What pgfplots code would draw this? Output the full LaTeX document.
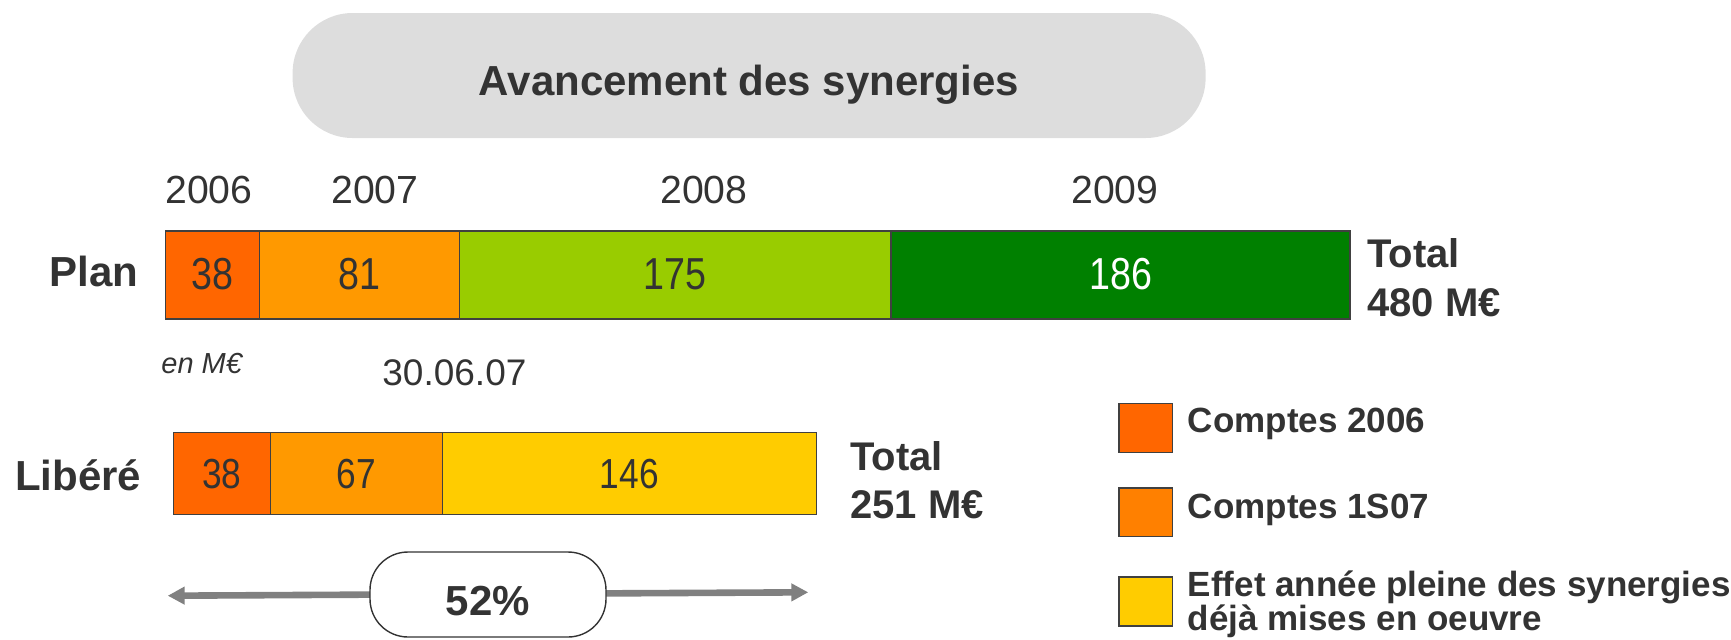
\documentclass[border=0pt]{standalone}
\usepackage{graphicx}
\usepackage{pgfplots}
\pgfplotsset{compat=1.18}
\usetikzlibrary{arrows.meta}
\usepackage{fontspec}
\setmainfont{Liberation Sans}

\definecolor{txt}{HTML}{333333}
\definecolor{c06}{HTML}{FF6600}
\definecolor{c07}{HTML}{FF9900}
\definecolor{c08}{HTML}{99CC00}
\definecolor{c09}{HTML}{008000}
\definecolor{cleg}{HTML}{FF8000}
\definecolor{ceff}{HTML}{FFCC00}
\definecolor{edge}{HTML}{404040}
\definecolor{pill}{HTML}{DDDDDD}
\definecolor{arr}{HTML}{808080}

\pgfplotsset{
  synbar/.style={
    xbar stacked, bar width=1, hide axis, scale only axis, clip=false,
    ymin=0.5, ymax=1.5, xmin=0, anchor=north west,
  },
  seg/.style={fill=#1, draw=edge, line width=0.6pt},
}
\tikzset{
  val/.style={font=\fontsize{#1}{#1}\selectfont, text=txt, anchor=base, inner sep=0pt},
}
% condensed figures for the values in the bars
\newcommand\narrow[1]{\scalebox{0.84}[1]{#1}}

\begin{document}
\begin{tikzpicture}
% 1 px of the reference = 0.5pt, y running downwards
\begin{scope}[x=0.5pt,y=-0.5pt]
\fill[pill, rounded corners=30pt] (292.6,13) rectangle (1205.6,138);
\node[font=\bfseries\fontsize{21}{25}\selectfont, text=txt, anchor=base, inner sep=0pt] at (749,95) {Avancement des synergies};
\foreach \xx/\yr in {209/2006, 375/2007, 704/2008, 1115/2009}
  \node[font=\fontsize{19.6}{22}\selectfont, text=txt, anchor=base, inner sep=0pt] at (\xx,203.3) {\yr};
\end{scope}

% Plan
\begin{axis}[synbar, at={(82.85pt,-115.5pt)}, width=592.15pt, height=44pt, xmax=480]
\addplot[seg=c06] coordinates {(38,1)};
\addplot[seg=c07] coordinates {(81,1)};
\addplot[seg=c08] coordinates {(175,1)};
\addplot[seg=c09] coordinates {(186,1)};
\coordinate (p1) at (axis cs:19,1);
\coordinate (p2) at (axis cs:78.5,1);
\coordinate (p3) at (axis cs:206.5,1);
\coordinate (p4) at (axis cs:387,1);
\end{axis}

% Libere
\begin{axis}[synbar, at={(86.65pt,-216.15pt)}, width=321.5pt, height=41pt, xmax=251]
\addplot[seg=c06] coordinates {(38,1)};
\addplot[seg=c07] coordinates {(67,1)};
\addplot[seg=ceff] coordinates {(146,1)};
\coordinate (l1) at (axis cs:19,1);
\coordinate (l2) at (axis cs:71.5,1);
\coordinate (l3) at (axis cs:178,1);
\end{axis}

\node[val=22.4, yshift=-7pt] at (p1) {\narrow{38}};
\node[val=22.4, yshift=-7pt] at (p2) {\narrow{81}};
\node[val=22.4, yshift=-7pt] at (p3) {\narrow{175}};
\node[val=22.4, yshift=-7pt, text=white] at (p4) {\narrow{186}};
\node[val=21, yshift=-7.5pt] at (l1) {\narrow{38}};
\node[val=21, yshift=-7.5pt] at (l2) {\narrow{67}};
\node[val=21, yshift=-7.5pt] at (l3) {\narrow{146}};

\begin{scope}[x=0.5pt,y=-0.5pt, every node/.style={text=txt, inner sep=0pt}]
\node[font=\bfseries\fontsize{21}{25}\selectfont, anchor=base east] at (138.5,286.7) {Plan};
\node[font=\bfseries\fontsize{21}{25}\selectfont, anchor=base east] at (141.5,490.7) {Libéré};
\node[font=\bfseries\fontsize{20}{24}\selectfont, anchor=base west] at (1367,267.7) {Total};
\node[font=\bfseries\fontsize{20}{24}\selectfont, anchor=base west] at (1367,316.7) {480 M€};
\node[font=\bfseries\fontsize{20}{24}\selectfont, anchor=base west] at (850,470) {Total};
\node[font=\bfseries\fontsize{20}{24}\selectfont, anchor=base west] at (850,518.3) {251 M€};
\node[font=\itshape\fontsize{14.5}{17}\selectfont, anchor=base west] at (161,373) {en M€};
\node[font=\fontsize{18.5}{22}\selectfont, anchor=base west] at (382,385) {30.06.07};

% legend
\fill[c06, draw=edge, line width=0.75pt] (1119,403.3) rectangle (1172.3,452.3);
\fill[cleg, draw=edge, line width=0.75pt] (1119,488) rectangle (1172.3,536.7);
\fill[ceff, draw=edge, line width=0.75pt] (1119,577) rectangle (1172.3,626);
\node[font=\bfseries\fontsize{17.5}{21}\selectfont, anchor=base west] at (1187.5,432.7) {Comptes 2006};
\node[font=\bfseries\fontsize{17.5}{21}\selectfont, anchor=base west] at (1187.5,518) {Comptes 1S07};
\node[font=\bfseries\fontsize{17.5}{21}\selectfont, anchor=base west] at (1187.5,596.5) {Effet année pleine des synergies};
\node[font=\bfseries\fontsize{17.5}{21}\selectfont, anchor=base west] at (1187.5,630) {déjà mises en oeuvre};

% 52 % arrow
\draw[arr, line width=3.3pt, {Triangle[length=8.5pt,width=8.5pt]}-{Triangle[length=8.5pt,width=8.5pt]}] (167.7,595.7) -- (808.3,592.3);
\filldraw[fill=white, draw=txt, line width=0.7pt, rounded corners=19pt] (370,552) rectangle (606,637);
\node[font=\bfseries\fontsize{21}{25}\selectfont, anchor=base] at (488,615) {52\%};
\end{scope}

\pgfresetboundingbox
\path[use as bounding box] (0pt,0pt) rectangle (865.5pt,-319.5pt);
\end{tikzpicture}
\end{document}
